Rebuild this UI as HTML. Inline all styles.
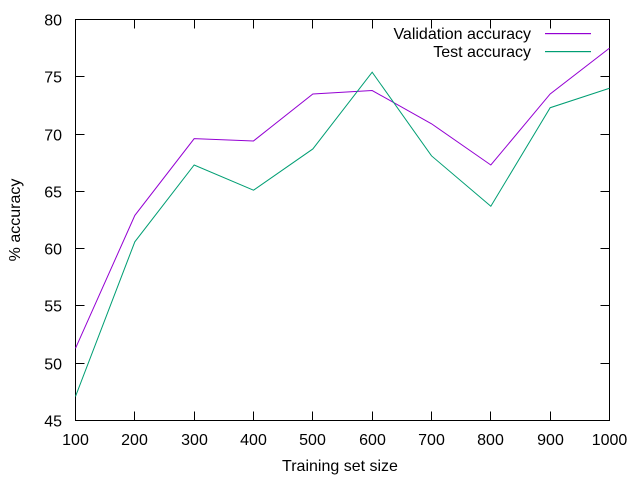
<!DOCTYPE html>
<html><head><meta charset="utf-8"><style>
body{margin:0;background:#fff}
svg{display:block;font-family:"Liberation Sans",Arial,sans-serif}
</style></head><body>
<svg id="chart" width="640" height="480" xmlns="http://www.w3.org/2000/svg">
<rect x="75.5" y="19.5" width="534" height="401" fill="none" stroke="#000" stroke-width="1"/>
<g id="ticks"></g>
<text transform="translate(20,220) rotate(-90)" text-anchor="middle" font-size="16">% accuracy</text>
<text x="340" y="471" text-anchor="middle" font-size="16">Training set size</text>
<g id="series"></g>
<g>
<text x="531" y="39" text-anchor="end" font-size="16">Validation accuracy</text>
<rect x="545" y="33" width="46" height="1.2" style="fill:#9400d3"/>
<text x="531" y="57" text-anchor="end" font-size="16">Test accuracy</text>
<rect x="545" y="51" width="46" height="1.2" style="fill:#009e73"/>
</g>
</svg>
<script>
const categories=[100,200,300,400,500,600,700,800,900,1000];
const validation=[51.3,62.9,69.6,69.4,73.5,73.8,70.9,67.3,73.5,77.5];
const test=[47.1,60.6,67.3,65.1,68.7,75.4,68.1,63.7,72.3,74.0];
const yTicks=[45,50,55,60,65,70,75,80];
const xTicks=[100,200,300,400,500,600,700,800,900,1000];
const NS="http://www.w3.org/2000/svg";
const X0=75.5,X1=609.5,Y0=420.5,Y1=19.5;
function xs(v){return X0+(v-100)/900*(X1-X0);}
function ys(v){return Y0-(v-45)/35*(Y0-Y1);}
const tk=document.getElementById('ticks');
function mk(tag,attrs,parent){const e=document.createElementNS(NS,tag);for(const k in attrs)e.setAttribute(k,attrs[k]);parent.appendChild(e);return e;}
yTicks.forEach(v=>{
 const y=Math.round(ys(v)-0.5)+0.5;
 mk('line',{x1:X0,y1:y,x2:X0+9,y2:y,stroke:'#000'},tk);
 mk('line',{x1:X1,y1:y,x2:X1-9,y2:y,stroke:'#000'},tk);
 const t=mk('text',{x:62,y:y+6,'text-anchor':'end','font-size':'16'},tk);
 t.textContent=v;
 
 
});
xTicks.forEach(v=>{
 const x=Math.round(xs(v)-0.5)+0.5;
 mk('line',{x1:x,y1:Y0,x2:x,y2:Y0-9,stroke:'#000'},tk);
 mk('line',{x1:x,y1:Y1,x2:x,y2:Y1+9,stroke:'#000'},tk);
 const t=mk('text',{x:x,y:445,'text-anchor':'middle','font-size':'16'},tk);
 t.textContent=v;
 
 
});
const sg=document.getElementById('series');
function line(vals,color,name){
 const p=mk('polyline',{points:vals.map((v,i)=>xs(categories[i])+','+ys(v)).join(' '),fill:'none',stroke:color,'stroke-width':'1'},sg);
 
 
}
line(validation,'#9400d3','validation-accuracy-line');
line(test,'#009e73','test-accuracy-line');
</script>
</body></html>
